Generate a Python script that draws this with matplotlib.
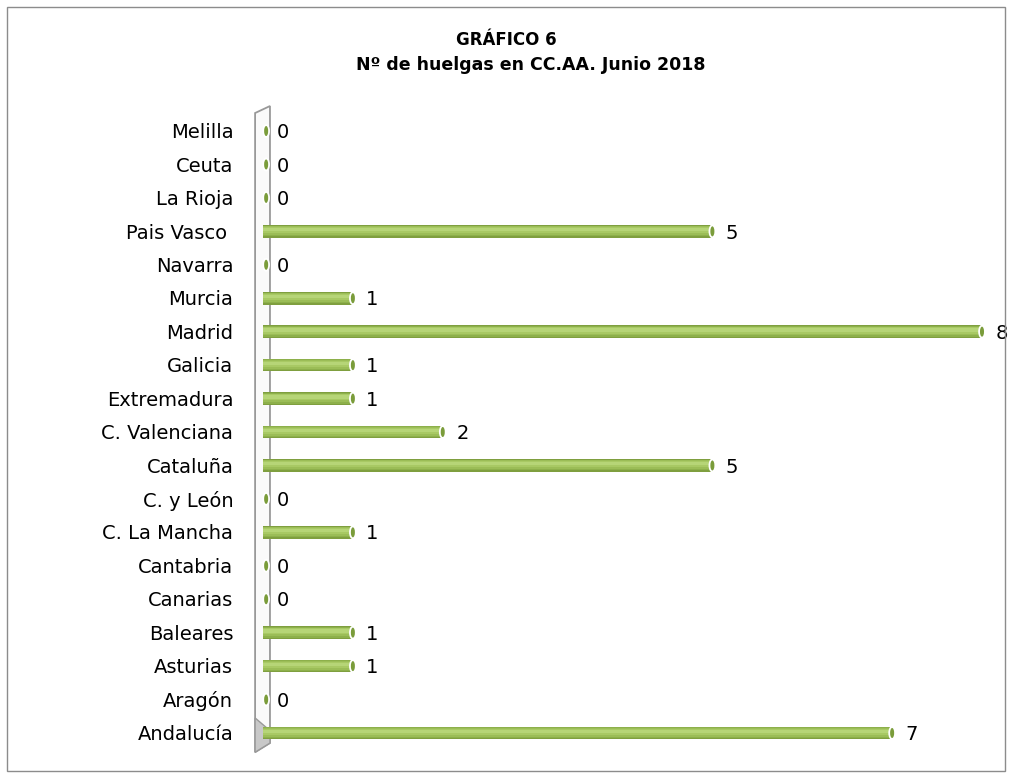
import numpy as np
import matplotlib.pyplot as plt
from matplotlib.patches import Ellipse, Polygon, Rectangle

regiones = ["Andalucía", "Aragón", "Asturias", "Baleares", "Canarias", "Cantabria",
            "C. La Mancha", "C. y León", "Cataluña", "C. Valenciana", "Extremadura",
            "Galicia", "Madrid", "Murcia", "Navarra", "Pais Vasco ", "La Rioja",
            "Ceuta", "Melilla"]
huelgas = [7, 0, 1, 1, 0, 0, 1, 0, 5, 2, 1, 1, 8, 1, 0, 5, 0, 0, 0]

plt.rcParams['font.family'] = ['DejaVu Sans']

W, H = 1013, 778
fig = plt.figure(figsize=(W / 100, H / 100), dpi=100)

# outer frame
fig.patches.append(Rectangle((7 / W, 7 / H), 998 / W, 764 / H, transform=fig.transFigure,
                             fill=False, edgecolor='#8c8c8c', linewidth=1))

ax = fig.add_axes([263 / W, 1 - 749.7 / H, (982 - 263) / W, (749.7 - 114.3) / H])
ax.set_xlim(0, 8)
ax.set_ylim(-0.5, len(regiones) - 0.5)
ax.axis('off')

y = np.arange(len(regiones))
vals = np.array(huelgas)

# 3D side wall
ax.add_patch(Polygon([(-0.011, -0.004), (-0.011, 1.002), (0.0097, 1.013), (0.0097, 0.0105)],
                     closed=True, transform=ax.transAxes, clip_on=False,
                     facecolor='#fafafa', edgecolor='#999999', linewidth=1.3, zorder=1))
ax.add_patch(Polygon([(-0.011, -0.004), (-0.011, 0.05), (0.0097, 0.03), (0.0097, 0.0105)],
                     closed=True, transform=ax.transAxes, clip_on=False,
                     facecolor='#c8c8c8', edgecolor='#999999', linewidth=1, zorder=1))

# cylinder bars (stacked shading layers)
layers = [(0.38, 0.0, '#7f9f3f'), (0.32, 0.01, '#8db04b'), (0.26, 0.02, '#9bbd57'),
          (0.18, 0.035, '#a8c964'), (0.1, 0.05, '#b6d577')]
for h, off, c in layers:
    ax.barh(y + off, vals, height=h, color=c, zorder=3)
for yi, v in zip(y, vals):
    xe = max(v, 0.035)
    ax.add_patch(Ellipse((xe, yi), 0.085, 0.42, facecolor='#ffffff', edgecolor='none',
                         zorder=4, clip_on=False))
    ax.add_patch(Ellipse((xe, yi), 0.045, 0.3, facecolor='#7a9c3a', edgecolor='none',
                         zorder=5, clip_on=False))
    ax.text(v + 0.15, yi - 0.05, str(v), va='center', ha='left', fontsize=14, color='black')

for yi, name in zip(y, regiones):
    ax.text(-0.33, yi - 0.05, name, va='center', ha='right', fontsize=14, color='black')

fig.text(506 / W, 1 - 40 / H, "GRÁFICO 6", ha='center', va='center',
         fontsize=12, fontweight='bold')
fig.text(531 / W, 1 - 65 / H, "Nº de huelgas en CC.AA. Junio 2018", ha='center',
         va='center', fontsize=12.5, fontweight='bold')

fig.savefig("out.png", dpi=100, facecolor='white')
